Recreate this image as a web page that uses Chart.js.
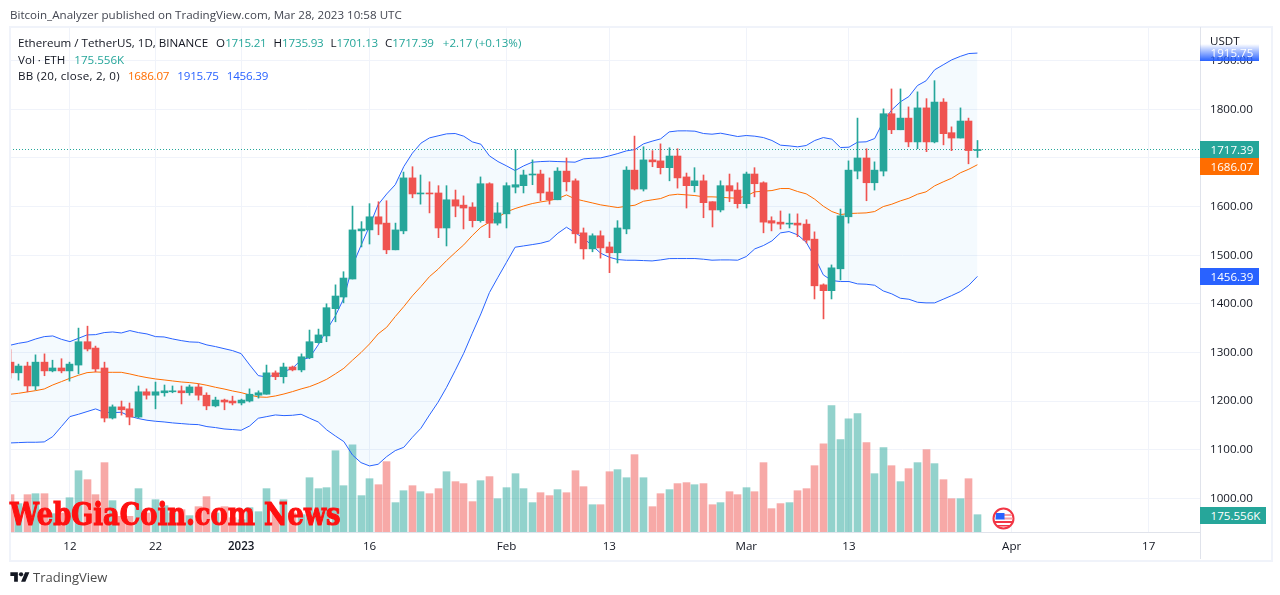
<!DOCTYPE html>
<html>
<head>
<meta charset="utf-8">
<title>ETHUSDT 1D</title>
<script src="https://cdn.jsdelivr.net/npm/chart.js@4"></script>
<style>
  html, body { margin: 0; padding: 0; background: #fff; }
  body { width: 1280px; height: 595px; position: relative; overflow: hidden;
         font-family: "Open Sans", sans-serif; font-size: 11.6px; color: #131722; }
  canvas { position: absolute; left: 0; top: 0; }
  .abs { position: absolute; white-space: nowrap; }
  .frame { left: 9px; top: 26px; width: 1260px; height: 532px; border: 2px solid #f0f3fa; }
  .sep { left: 1200px; top: 27px; width: 1px; height: 532px; background: #e0e3eb; }
  .row { left: 18px; height: 16px; line-height: 16px; color: #131722; }
  .row span { margin-left: 8px; letter-spacing: -0.2px; }
  .row span.k { margin-left: 7px; letter-spacing: 0; color: #131722; }
  .row span.v { margin-left: 0; color: #26a69a; }
  .up { color: #26a69a; }
  .badge { left: 1200px; width: 48.500px; padding-left: 10.500px; height: 17px; line-height: 17px; color: #fff; }
  .wm { left: 10px; top: 495px; font: 900 32px "DejaVu Serif", serif; color: #ff1111;
        transform-origin: 0 0; transform: scaleX(0.805); -webkit-text-stroke: 1.2px #ff1111; }
</style>
</head>
<body>
<canvas id="chart" width="1280" height="595"></canvas>

<div class="abs frame"></div>
<div class="abs sep"></div>

<div class="abs" style="left:10px;top:7px;line-height:16px;color:#434651">Bitcoin_Analyzer published on TradingView.com, Mar 28, 2023 10:58 UTC</div>
<div class="abs row" style="top:35px">Ethereum / TetherUS, 1D, BINANCE<span class="k" style="margin-left:8px">O</span><span class="v">1715.21</span><span class="k">H</span><span class="v">1735.93</span><span class="k">L</span><span class="v">1701.13</span><span class="k">C</span><span class="v">1717.39</span><span class="up" style="margin-left:9px;letter-spacing:0">+2.17 (+0.13%)</span></div>
<div class="abs row" style="top:52px">Vol · ETH<span class="up" style="margin-left:9px;letter-spacing:0">175.556K</span></div>
<div class="abs row" style="top:68px"><b style="font-weight:400;letter-spacing:0.25px">BB (20, close, 2, 0)</b><span style="color:#ff6d00">1686.07</span><span style="color:#2962ff">1915.75</span><span style="color:#2962ff">1456.39</span></div>

<div class="abs" style="left:1210px;top:33px;line-height:16px">USDT</div>
<div class="abs badge" style="top:44px;background:linear-gradient(to bottom,rgba(41,98,255,0),#2962ff)">1915.75</div>
<div class="abs badge" style="top:141px;background:#26a69a">1717.39</div>
<div class="abs badge" style="top:158px;background:#ff6d00">1686.07</div>
<div class="abs badge" style="top:268px;background:#2962ff">1456.39</div>
<div class="abs badge" style="top:507px;width:55.500px;background:#26a69a">175.556K</div>

<div class="abs wm">WebGiaCoin.com News</div>

<svg class="abs" style="left:992px;top:507px" width="23" height="23" viewBox="0 0 23 23">
  <circle cx="11.5" cy="11.5" r="10" fill="#fff" stroke="#f23645" stroke-width="2"/>
  <path d="M3 14h17v2H3zM5 18h13v1.6H5z" fill="#f23645"/>
  <path d="M12 7h8v2h-8zM12 10.500h8v2h-8z" fill="#f9a0a5"/>
  <path d="M4 6h8.500v6.500H3.500z" fill="#2962ff"/>
</svg>

<svg class="abs" style="left:10px;top:570px" width="20" height="15" viewBox="0 0 36 28">
  <path d="M14 22H7V11H0V4h14v18zM28 22h-8l7.500-18h8L28 22z" fill="#131722"/>
  <circle cx="20" cy="8" r="4" fill="#131722"/>
</svg>
<div class="abs" style="left:33px;top:569px;line-height:16px;font-size:13px;color:#4a4a4a">TradingView</div>

<script>
// daily candles, 5 Dec 2022 -> 28 Mar 2023
const opens = [1280,1258,1272,1231,1280,1262,1268,1262,1274,1322,1309,1268,1165,1188,1184,1167,1219,1212,1217,1219,1221,1217,1229,1212,1190,1202,1200,1196,1200,1212,1214,1258,1250,1270,1264,1289,1320,1334,1390,1414,1451,1550,1552,1579,1566,1511,1550,1659,1626,1628,1628,1556,1614,1603,1599,1571,1647,1566,1585,1640,1643,1665,1667,1630,1614,1673,1653,1546,1513,1540,1517,1505,1554,1675,1636,1696,1694,1680,1704,1661,1643,1653,1610,1593,1643,1634,1606,1667,1649,1571,1568,1564,1566,1564,1533,1439,1427,1472,1579,1673,1700,1649,1673,1791,1758,1782,1733,1803,1733,1815,1752,1741,1776,1715.21];
const highs = [1306,1276,1280,1295,1297,1284,1287,1280,1350,1354,1313,1280,1192,1200,1196,1231,1225,1239,1233,1231,1231,1233,1235,1217,1208,1204,1210,1204,1225,1221,1274,1262,1278,1272,1297,1346,1348,1400,1439,1466,1601,1569,1606,1610,1612,1566,1671,1682,1665,1651,1643,1643,1634,1622,1608,1661,1649,1608,1649,1717,1675,1696,1675,1659,1680,1700,1657,1556,1544,1550,1527,1571,1682,1745,1723,1715,1729,1721,1719,1669,1680,1665,1610,1653,1667,1649,1671,1680,1651,1579,1591,1585,1585,1573,1548,1441,1480,1595,1694,1782,1719,1692,1801,1842,1842,1805,1836,1822,1859,1822,1764,1803,1782,1735.93];
const lows = [1247,1243,1219,1223,1252,1260,1258,1241,1256,1303,1260,1157,1163,1171,1151,1165,1204,1184,1210,1217,1194,1212,1202,1182,1188,1182,1192,1192,1198,1206,1214,1244,1237,1262,1260,1287,1319,1322,1363,1402,1451,1517,1523,1542,1503,1511,1544,1618,1605,1587,1536,1519,1579,1554,1558,1568,1536,1562,1556,1628,1628,1645,1612,1605,1614,1632,1525,1492,1507,1494,1464,1484,1544,1634,1632,1682,1667,1653,1638,1597,1630,1577,1558,1589,1610,1597,1597,1620,1546,1550,1554,1556,1538,1525,1410,1369,1410,1449,1566,1657,1612,1634,1663,1750,1758,1723,1719,1713,1731,1727,1715,1741,1688,1701.13];
const closes = [1258,1272,1231,1280,1262,1268,1262,1276,1322,1307,1266,1165,1188,1182,1167,1219,1212,1219,1221,1221,1217,1229,1212,1190,1202,1198,1196,1202,1214,1217,1258,1250,1270,1264,1291,1322,1336,1392,1416,1453,1552,1554,1579,1564,1511,1552,1659,1626,1628,1626,1556,1614,1601,1597,1571,1647,1566,1587,1643,1645,1665,1667,1628,1614,1673,1651,1544,1513,1540,1515,1505,1556,1675,1636,1696,1692,1680,1704,1659,1643,1653,1608,1593,1643,1632,1606,1667,1647,1568,1566,1564,1566,1562,1531,1437,1427,1474,1581,1675,1700,1649,1675,1791,1758,1782,1733,1803,1733,1815,1750,1741,1776,1715.2,1717.39];

// volume in thousands of ETH
const volumes = [379,288,379,389,389,186,193,348,622,531,379,704,318,159,159,440,193,328,267,193,227,166,257,359,193,257,145,125,247,206,440,193,328,193,176,551,440,450,825,470,886,369,541,480,714,298,419,470,409,389,440,612,511,491,308,521,562,338,450,592,440,298,399,369,430,399,622,460,277,277,612,633,551,785,551,257,389,430,491,501,480,491,277,298,409,379,450,409,704,237,288,298,419,440,673,896,1282,937,1150,1201,907,592,856,673,511,643,704,836,694,531,338,338,541,175.556];

// Bollinger bands (20, close, 2, 0)
const bbUpper = [1314.7,1318.8,1321.6,1327.7,1332.5,1333.9,1327,1322.2,1329.1,1336,1336.6,1340.8,1342.1,1340,1344.9,1340.8,1338,1332.5,1331.8,1327.7,1324.3,1321.6,1320.9,1315.4,1312,1307.8,1303.7,1297.5,1274.2,1252.3,1249.5,1253.7,1260.6,1267.4,1284.6,1289.4,1315.5,1346.3,1375.1,1411.5,1478,1520,1560,1604,1626,1645,1682.4,1709.8,1730.4,1741.3,1745.5,1749.6,1750.3,1744.8,1733.1,1728.3,1704.3,1692.6,1683.7,1674.1,1683.7,1691.3,1692.6,1693.3,1692.6,1692,1691.3,1698.1,1699.5,1700.2,1704.3,1709.1,1714.6,1717.3,1729,1734.5,1739.3,1753.7,1755.7,1755.8,1755.1,1750.3,1748.9,1751,1747.6,1744.1,1746.2,1744.8,1742,1735.9,1726.3,1724.9,1722.9,1725.6,1735.9,1742,1738.6,1721.5,1722.2,1732.5,1733.2,1740,1775,1799,1815.5,1826.4,1849,1858.7,1881.3,1891.6,1901.8,1909,1914.8,1915.75];
const bbBasis = [1213.9,1215.9,1218.7,1221.4,1224.8,1233.1,1239.9,1246.8,1253,1258.4,1259.8,1259.1,1259.1,1259.1,1255.7,1251.6,1248.2,1245.4,1243.4,1241.3,1239.2,1237.9,1235.8,1232.4,1228.3,1224.8,1220.7,1217.3,1212.5,1208.4,1207.7,1210.4,1214.5,1219.4,1224.9,1229.7,1236.6,1244.8,1255.8,1267.4,1283.9,1299.7,1317.5,1338.1,1351.8,1373.8,1394.3,1416.3,1435.5,1456,1471.1,1489,1505.4,1521.2,1540.4,1557.5,1567.8,1578.1,1589.1,1595.9,1601.4,1606.2,1609.6,1612.4,1616.5,1624,1615.8,1611.7,1607.6,1603.5,1600.7,1598,1600.7,1602.8,1611,1613.8,1616.5,1623.4,1625.4,1624.1,1622.7,1620,1620,1619.3,1617.9,1617.2,1622,1630.3,1631.6,1633,1637.1,1637.1,1631,1626.2,1615.2,1600.8,1589.8,1583.6,1585.7,1586.4,1587,1589.8,1600,1604.9,1611.7,1617.2,1625.4,1630.3,1642.6,1650.8,1658.4,1669.4,1676.9,1686.07];
const bbLower = [1113.8,1114.5,1115.2,1115.2,1115.9,1126.9,1147.4,1168,1172.8,1178.3,1183.8,1176.9,1176.2,1176.9,1168.7,1163.9,1160.5,1158.4,1157,1155,1153.6,1152.2,1151.5,1147.4,1145.4,1142.6,1141.3,1139.9,1148.8,1164.6,1168,1171.4,1170,1170.7,1172.8,1164.6,1157,1140.6,1128.2,1116.5,1089.1,1073.3,1066.5,1069.9,1085.7,1098,1104.9,1125.4,1144,1171.4,1197.5,1228.3,1262.6,1298.3,1339.4,1379.2,1423.1,1454.7,1485.5,1516.4,1519.1,1521.8,1524.6,1529.4,1545.2,1557.5,1546.5,1534.9,1519.8,1504,1495.8,1491,1489.6,1489.6,1488.9,1488.2,1490.3,1493,1493.1,1493.1,1493.1,1491.7,1489.7,1490.3,1490.3,1489.7,1497.2,1513,1519.8,1529.4,1545.9,1548.6,1541.8,1526.7,1495.8,1459.5,1447.8,1445.8,1445.8,1441,1440.3,1438.2,1426.5,1420.4,1411.4,1409.4,1403.2,1401.9,1401.9,1409.4,1416.9,1425.2,1438.2,1456.39];

// axis ticks, position in days from 5 Dec
const priceTicks = [1000,1100,1200,1300,1400,1500,1600,1700,1800,1900];
const timeTickDays = [7,17,27,42,58,70,86,98,117,133];
const timeTickLabels = ['12','22','2023','16','Feb','13','Mar','13','Apr','17'];

const UP = '#26a69a', DOWN = '#ef5350';
const candleColors = closes.map((c, i) => c >= opens[i] ? UP : DOWN);
const volColors = closes.map((c, i) => c >= opens[i] ? 'rgba(38,166,154,0.5)' : 'rgba(239,83,80,0.5)');
const series = arr => arr.map((y, x) => ({ x, y }));

const X_MAX = 139;
const lastClose = closes[closes.length - 1];

// put bars on whole pixels, the reference has crisp bodies
const snapBars = {
  id: 'snapBars',
  afterDatasetsUpdate(chart) {
    chart.data.datasets.forEach((ds, i) => {
      if (ds.snap) chart.getDatasetMeta(i).data.forEach(el => { el.x = Math.floor(el.x) + 0.5; });
    });
  }
};

new Chart(document.getElementById('chart'), {
  data: {
    datasets: [
      { type: 'bar', yAxisID: 'vol', order: 9, grouped: false, barThickness: 7, snap: true,
        data: series(volumes), backgroundColor: volColors },
      { type: 'line', order: 6, data: series(bbUpper), borderColor: '#2962ff', borderWidth: 1,
        pointRadius: 0, tension: 0, fill: { target: 2 }, backgroundColor: 'rgba(33,150,243,0.05)' },
      { type: 'line', order: 6, data: series(bbLower), borderColor: '#2962ff', borderWidth: 1,
        pointRadius: 0, tension: 0, fill: false },
      { type: 'line', order: 5, data: series(bbBasis), borderColor: '#ff6d00', borderWidth: 1,
        pointRadius: 0, tension: 0, fill: false },
      { type: 'line', order: 4, data: [{ x: 0, y: lastClose }, { x: X_MAX, y: lastClose }],
        borderColor: UP, borderWidth: 1, borderDash: [1, 2], pointRadius: 0, fill: false },
      { type: 'bar', order: 3, grouped: false, barThickness: 1, snap: true,
        data: lows.map((l, x) => ({ x, y: [l, highs[x]] })), backgroundColor: candleColors },
      { type: 'bar', order: 2, grouped: false, barThickness: 7, snap: true,
        data: opens.map((o, x) => ({ x, y: [o, closes[x]] })), backgroundColor: candleColors }
    ]
  },
  options: {
    responsive: false,
    animation: false,
    events: [],
    layout: { padding: { left: 10, right: 10, top: 27, bottom: 36 } },
    plugins: { legend: { display: false }, tooltip: { enabled: false } },
    scales: {
      x: {
        type: 'linear', min: 0, max: X_MAX, offset: false,
        afterBuildTicks: s => { s.ticks = timeTickDays.map(value => ({ value })); },
        afterFit: s => { s.height = 27; },
        grid: { color: '#f0f3fa', drawTicks: false, offset: false },
        border: { color: '#e0e3eb' },
        ticks: {
          autoSkip: false, maxRotation: 0, padding: 8, color: '#131722',
          font: c => ({ family: '"Open Sans", sans-serif', size: 11.6, weight: c.tick && c.tick.value === 27 ? '600' : '400' }),
          callback: v => timeTickLabels[timeTickDays.indexOf(v)]
        }
      },
      y: {
        position: 'right', min: 930.6, max: 1969.4,
        afterBuildTicks: s => { s.ticks = priceTicks.map(value => ({ value })); },
        afterFit: s => { s.width = 70; },
        grid: { color: '#f0f3fa', drawTicks: false },
        border: { display: false },
        ticks: {
          padding: 10, color: '#131722',
          font: { family: '"Open Sans", sans-serif', size: 11.6 },
          callback: v => v.toFixed(2)
        }
      },
      vol: { display: false, min: 0, max: 5126 }
    }
  },
  plugins: [snapBars]
});
</script>
</body>
</html>
